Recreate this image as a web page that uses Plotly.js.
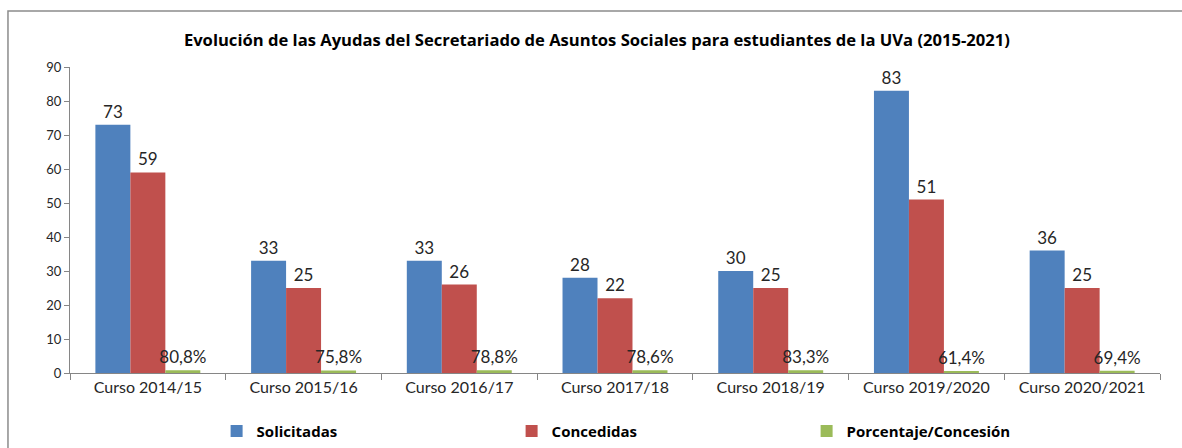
<!DOCTYPE html>
<html>
<head>
<meta charset="utf-8">
<script src="https://cdn.plot.ly/plotly-3.0.1.min.js"></script>
<style>
html,body{margin:0;padding:0;background:#fff;}
#chart{width:1182px;height:448px;}
</style>
</head>
<body>
<div id="chart"></div>
<script>
const categories = ["Curso 2014/15","Curso 2015/16","Curso 2016/17","Curso 2017/18","Curso 2018/19","Curso 2019/2020","Curso 2020/2021"];
const solicitadas = [73, 33, 33, 28, 30, 83, 36];
const concedidas = [59, 25, 26, 22, 25, 51, 25];
const porcentaje = [0.808, 0.758, 0.788, 0.786, 0.833, 0.614, 0.694];
const porcentajeLabels = ["80,8%","75,8%","78,8%","78,6%","83,3%","61,4%","69,4%"];

const FONT = "Lato, 'Open Sans', sans-serif";
const BFONT = "'Open Sans', Lato, sans-serif";
const labelFont = {family: FONT, size: 17, color: "#262626"};

const traces = [
  {type:"bar", name:"Solicitadas", x:categories, y:solicitadas, text:solicitadas.map(String),
   textposition:"outside", constraintext:"none", textfont:labelFont, cliponaxis:false, marker:{color:"#4F81BD"}},
  {type:"bar", name:"Concedidas", x:categories, y:concedidas, text:concedidas.map(String),
   textposition:"outside", constraintext:"none", textfont:labelFont, cliponaxis:false, marker:{color:"#C0504D"}},
  {type:"bar", name:"Porcentaje/Concesión", x:categories, y:porcentaje, text:porcentajeLabels,
   textposition:"outside", constraintext:"none", textfont:labelFont, cliponaxis:false, marker:{color:"#9BBB59"}}
];

const layout = {
  width:1182, height:448,
  margin:{l:70, r:22, t:67, b:75, autoexpand:false},
  paper_bgcolor:"#fff", plot_bgcolor:"#fff",
  barmode:"group", bargap:0.326, bargroupgap:0,
  showlegend:true,
  title:{text:"<b>Evolución de las Ayudas del Secretariado de Asuntos Sociales para estudiantes de la UVa (2015-2021)</b>",
    font:{family:BFONT, size:16.6, color:"#000"}, x:0.505, xanchor:"center", y:0.91, yanchor:"middle"},
  xaxis:{type:"category", showgrid:false, showline:true, linecolor:"#868686", linewidth:1,
    ticks:"outside", tickson:"boundaries", ticklen:6, tickcolor:"#868686",
    tickfont:{family:FONT, size:16, color:"#262626"}, zeroline:false},
  yaxis:{range:[0,90], dtick:10, showgrid:false, showline:true, linecolor:"#868686", linewidth:1,
    ticks:"outside", ticklen:5, tickcolor:"#868686", zeroline:false,
    tickfont:{family:FONT, size:13, color:"#262626"}},
  legend:{orientation:"h", x:0.1345, xanchor:"left", y:-0.19, yanchor:"middle",
    entrywidth:250, entrywidthmode:"pixels",
    font:{family:BFONT, size:15, color:"#000", weight:"bold"}, itemclick:false},
  hovermode:false,
  shapes:[
    {type:"path", xref:"paper", yref:"paper",
     path:"M -0.0569 -0.26 L -0.0569 1.183 L 1.03 1.183",
     line:{color:"#8c8c8c", width:1.5}}
  ]
};

Plotly.newPlot("chart", traces, layout, {displayModeBar:false, staticPlot:true});
</script>
</body>
</html>
